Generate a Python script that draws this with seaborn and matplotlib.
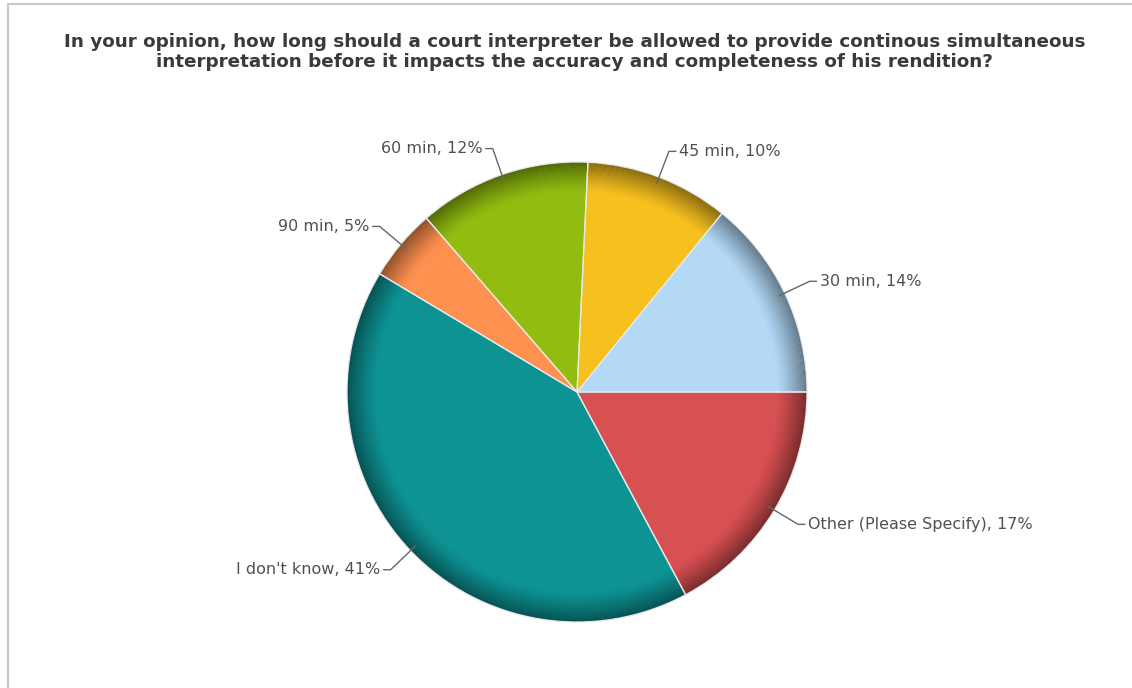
import numpy as np
import seaborn as sns
import matplotlib
matplotlib.use("Agg")
import matplotlib.pyplot as plt
from matplotlib.lines import Line2D

sns.set_style("white")
plt.rcParams['font.family'] = ['DejaVu Sans']

# survey answers and their shares (percent)
labels = ["30 min", "45 min", "60 min", "90 min", "I don't know", "Other (Please Specify)"]
pct = [14, 10, 12, 5, 41, 17]
colors = ["#B3D9F7", "#F6C01F", "#92BD10", "#FF9150", "#0E9394", "#D75052"]

title = ("In your opinion, how long should a court interpreter be allowed to provide continous simultaneous\n"
         "interpretation before it impacts the accuracy and completeness of his rendition?")

W, H = 1132, 688
fig = plt.figure(figsize=(W / 100, H / 100), dpi=100)
fig.patch.set_facecolor("white")
ax = fig.add_axes([0, 0, 1, 1])

cx, cy = 577, H - 392
R = 230

# base pie
wedges, _ = ax.pie(pct, colors=colors, startangle=0, counterclock=True,
                   center=(cx, cy), radius=R,
                   wedgeprops=dict(linewidth=0))

# darker rim (fake bevel)
nring = 28
r_in = 0.87
for k in range(nring):
	r0 = r_in + (1 - r_in) * k / nring
	r1 = r_in + (1 - r_in) * (k + 1) / nring
	t = (k + 0.5) / nring
	a = 0.48 * t ** 1.3
	ax.pie([1], radius=R * r1, center=(cx, cy), colors=["black"],
	       wedgeprops=dict(width=R * (r1 - r0), linewidth=0, alpha=a))

# light slice separators on top
ax.pie(pct, startangle=0, counterclock=True, center=(cx, cy), radius=R,
       wedgeprops=dict(facecolor="none", edgecolor="#e8e8e8", linewidth=0.9))

# labels with leader lines
for w, lab, p in zip(wedges, labels, pct):
	th = np.deg2rad((w.theta1 + w.theta2) / 2)
	c, s = np.cos(th), np.sin(th)
	x0, y0 = cx + R * 0.97 * c, cy + R * 0.97 * s
	x1, y1 = cx + R * 1.12 * c, cy + R * 1.12 * s
	sgn = 1 if c >= 0 else -1
	x2 = x1 + sgn * 7
	ax.plot([x0, x1, x2], [y0, y1, y1], color="#666666", lw=1.0)
	ax.text(x2 + sgn * 3, y1, f"{lab}, {p}%", ha="left" if sgn > 0 else "right",
	        va="center", fontsize=11.5, color="#505050")

ax.set_xlim(0, W)
ax.set_ylim(0, H)
ax.set_aspect("equal")
ax.axis("off")

fig.text(575 / W, 1 - 52 / H, title, ha="center", va="center", fontsize=13.2,
         fontweight="bold", color="#3a3a3a", linespacing=1.2)

# frame lines (left and top)
fig.add_artist(Line2D([7.5 / W, 7.5 / W], [0, 1 - 4 / H], color="#c8c8c8", lw=1.5))
fig.add_artist(Line2D([7.5 / W, 1], [1 - 4 / H, 1 - 4 / H], color="#c8c8c8", lw=1.5))

fig.savefig("out.png", dpi=100, facecolor="white")
